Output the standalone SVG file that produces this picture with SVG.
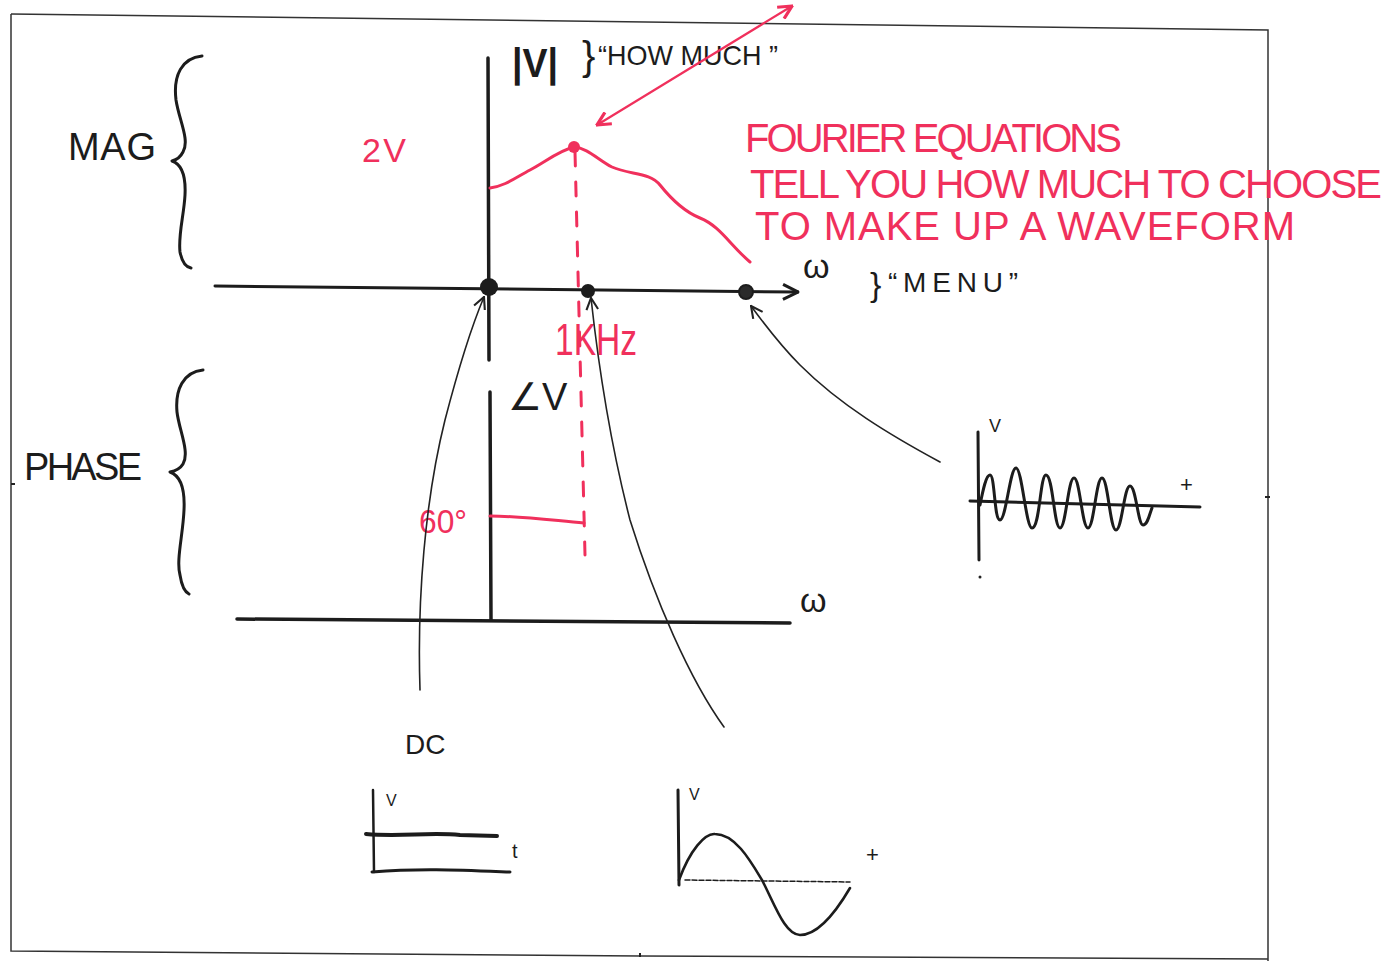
<svg xmlns="http://www.w3.org/2000/svg" width="1389" height="961" viewBox="0 0 1389 961">
<defs>
<style>
.ink{fill:none;stroke:#1c1c1c;stroke-linecap:round;stroke-linejoin:round}
.red{fill:none;stroke:#f0305c;stroke-linecap:round;stroke-linejoin:round}
.thin{fill:none;stroke:#222;stroke-width:1.6;stroke-linecap:round}
.t{font-family:"Liberation Sans",Arial,sans-serif;fill:#1c1c1c}
.tr{font-family:"Liberation Sans",Arial,sans-serif;fill:#f0305c}
.frame{fill:none;stroke:#333;stroke-width:1.5}
</style>
<marker id="ah" viewBox="0 0 12 12" refX="11" refY="6" markerWidth="14" markerHeight="14" markerUnits="userSpaceOnUse" orient="auto">
<path d="M1,1 L11,6 L1,11" fill="none" stroke="#222" stroke-width="1.8"/>
</marker>
<marker id="ahr" viewBox="0 0 12 12" refX="11" refY="6" markerWidth="16" markerHeight="16" markerUnits="userSpaceOnUse" orient="auto-start-reverse">
<path d="M1,1 L11,6 L1,11" fill="none" stroke="#f0305c" stroke-width="2.4"/>
</marker>
<marker id="ahb" viewBox="0 0 12 12" refX="11" refY="6" markerWidth="18" markerHeight="18" markerUnits="userSpaceOnUse" orient="auto">
<path d="M1,1 L11,6 L1,11" fill="none" stroke="#1c1c1c" stroke-width="2"/>
</marker>
</defs>
<rect width="1389" height="961" fill="#fff"/>

<g id="page-frame">
<path class="frame" d="M11,14 L1268,30 L1268,961"/>
<path class="frame" d="M11,14 L11,951 L640,956 L1268,959"/>
<path d="M11,484 l4,0 M640,953 l0,4 M1265,497 l5,0" stroke="#222" stroke-width="2"/>
</g>

<g id="mag-label">
<text class="t" x="68" y="160" font-size="38" textLength="88">MAG</text>
<path class="ink" stroke-width="3" d="M202,56 C182,58 173,75 176,100 C179,120 190,140 183,152 C180,158 176,160 172,161 C181,164 186,175 185,195 C184,215 178,235 180,252 C182,262 185,267 191,268"/>
</g>

<g id="phase-label">
<text class="t" x="24" y="480" font-size="38" textLength="118">PHASE</text>
<path class="ink" stroke-width="3" d="M203,370 C183,372 175,390 177,412 C179,430 190,452 183,464 C180,469 175,471 170,472 C181,476 185,490 184,510 C183,535 176,560 180,575 C182,588 185,592 189,594"/>
</g>

<g id="magnitude-plot">
<path class="ink" stroke-width="3.5" d="M488,58 L489,360"/>
<path class="ink" stroke-width="3" d="M215,286 L798,292" marker-end="url(#ahb)"/>
<text class="t" x="512" y="77" font-size="40" font-weight="bold" textLength="46" lengthAdjust="spacingAndGlyphs">|V|</text>
<text class="t" x="582" y="70" font-size="40">}</text>
<text class="t" x="598" y="65" font-size="28" textLength="180" lengthAdjust="spacingAndGlyphs">“HOW MUCH ”</text>
<text class="t" x="803" y="278" font-size="34" font-family="DejaVu Sans">ω</text>
<text class="t" x="870" y="296" font-size="34">}</text>
<text class="t" x="888" y="292" font-size="28" textLength="130">“MENU”</text>
<text class="tr" x="362" y="162" font-size="34" textLength="44">2V</text>
<path class="red" stroke-width="3" d="M490,188 C505,186 515,178 530,170 C545,162 560,150 574,147 C588,148 598,160 612,167 C630,175 650,172 660,185 C672,200 685,212 700,218 C720,226 730,245 750,262"/>
<circle cx="574" cy="147" r="6" fill="#f0305c"/>
<path class="red" stroke-width="3" stroke-dasharray="14 16" d="M575,152 L585,555"/>
<circle cx="489" cy="287" r="9" fill="#1c1c1c"/>
<circle cx="588" cy="291" r="7" fill="#1c1c1c"/>
<circle cx="746" cy="292" r="7" fill="#2a2a2a" stroke="#1c1c1c" stroke-width="2"/>
<text class="tr" x="555" y="355" font-size="44" textLength="82" lengthAdjust="spacingAndGlyphs">1KHz</text>
</g>

<g id="phase-plot">
<path class="ink" stroke-width="3.5" d="M490,392 L491,620"/>
<path class="ink" stroke-width="3.5" d="M237,619 L790,623"/>
<text class="t" x="508" y="410" font-size="38">∠V</text>
<text class="t" x="800" y="612" font-size="34" font-family="DejaVu Sans">ω</text>
<text class="tr" x="419" y="533" font-size="34" textLength="48" lengthAdjust="spacingAndGlyphs">60°</text>
<path class="red" stroke-width="3" d="M490,516 C520,516 550,520 584,523"/>
</g>

<g id="fourier-note">
<text class="tr" x="745" y="152" font-size="40" textLength="377">FOURIER  EQUATIONS</text>
<text class="tr" x="750" y="198" font-size="40" textLength="632">TELL  YOU  HOW  MUCH  TO  CHOOSE</text>
<text class="tr" x="755" y="240" font-size="40" textLength="540">TO  MAKE  UP  A  WAVEFORM</text>
</g>

<g id="dc-waveform">
<text class="t" x="405" y="754" font-size="28">DC</text>
<path class="ink" stroke-width="2.5" d="M373,790 L374,872"/>
<text class="t" x="386" y="806" font-size="16">V</text>
<path class="ink" stroke-width="4" d="M366,834 C400,837 430,832 460,835 L497,836"/>
<path class="ink" stroke-width="3" d="M372,872 C420,868 460,870 510,872"/>
<text class="t" x="512" y="858" font-size="20">t</text>
</g>

<g id="sine-waveform">
<path class="ink" stroke-width="3" d="M678,790 L679,885"/>
<text class="t" x="689" y="800" font-size="16">V</text>
<path class="ink" stroke-width="1.5" stroke-dasharray="5 2" d="M685,880 L850,882"/>
<path class="ink" stroke-width="2.6" d="M679,880 C690,850 705,833 715,834 C735,834 750,860 762,880 C775,905 785,935 800,935 C820,935 840,905 850,888"/>
<text class="t" x="866" y="862" font-size="22">+</text>
</g>

<g id="multi-waveform">
<path class="ink" stroke-width="3" d="M978,432 L979,560"/>
<circle cx="980" cy="577" r="1.5" fill="#222"/>
<text class="t" x="989" y="432" font-size="18">V</text>
<path class="ink" stroke-width="3" d="M970,501 L1200,507"/>
<text class="t" x="1180" y="492" font-size="22">+</text>
<path class="ink" stroke-width="3" d="M980,505 C983,490 986,475 990,475 C995,475 994,520 1000,520 C1006,520 1010,468 1016,468 C1022,468 1026,528 1032,528 C1040,528 1040,475 1046,475 C1053,475 1054,528 1060,528 C1066,528 1068,478 1074,478 C1080,478 1082,528 1088,528 C1094,528 1096,478 1102,478 C1108,478 1110,530 1116,530 C1122,530 1124,486 1130,486 C1136,486 1138,525 1143,525 C1148,525 1150,512 1152,508"/>
</g>

<g id="connectors">
<path class="thin" d="M420,690 C417,600 425,500 445,420 C458,370 470,330 484,297" marker-end="url(#ah)"/>
<path class="thin" d="M724,727 C690,680 655,600 630,520 C612,450 600,380 591,298" marker-end="url(#ah)"/>
<path class="thin" d="M940,462 C890,435 840,405 800,365 C780,345 765,325 751,306" marker-end="url(#ah)"/>
<path class="red" stroke-width="2.2" d="M597,125 L792,6" marker-start="url(#ahr)" marker-end="url(#ahr)"/>
</g>
</svg>
